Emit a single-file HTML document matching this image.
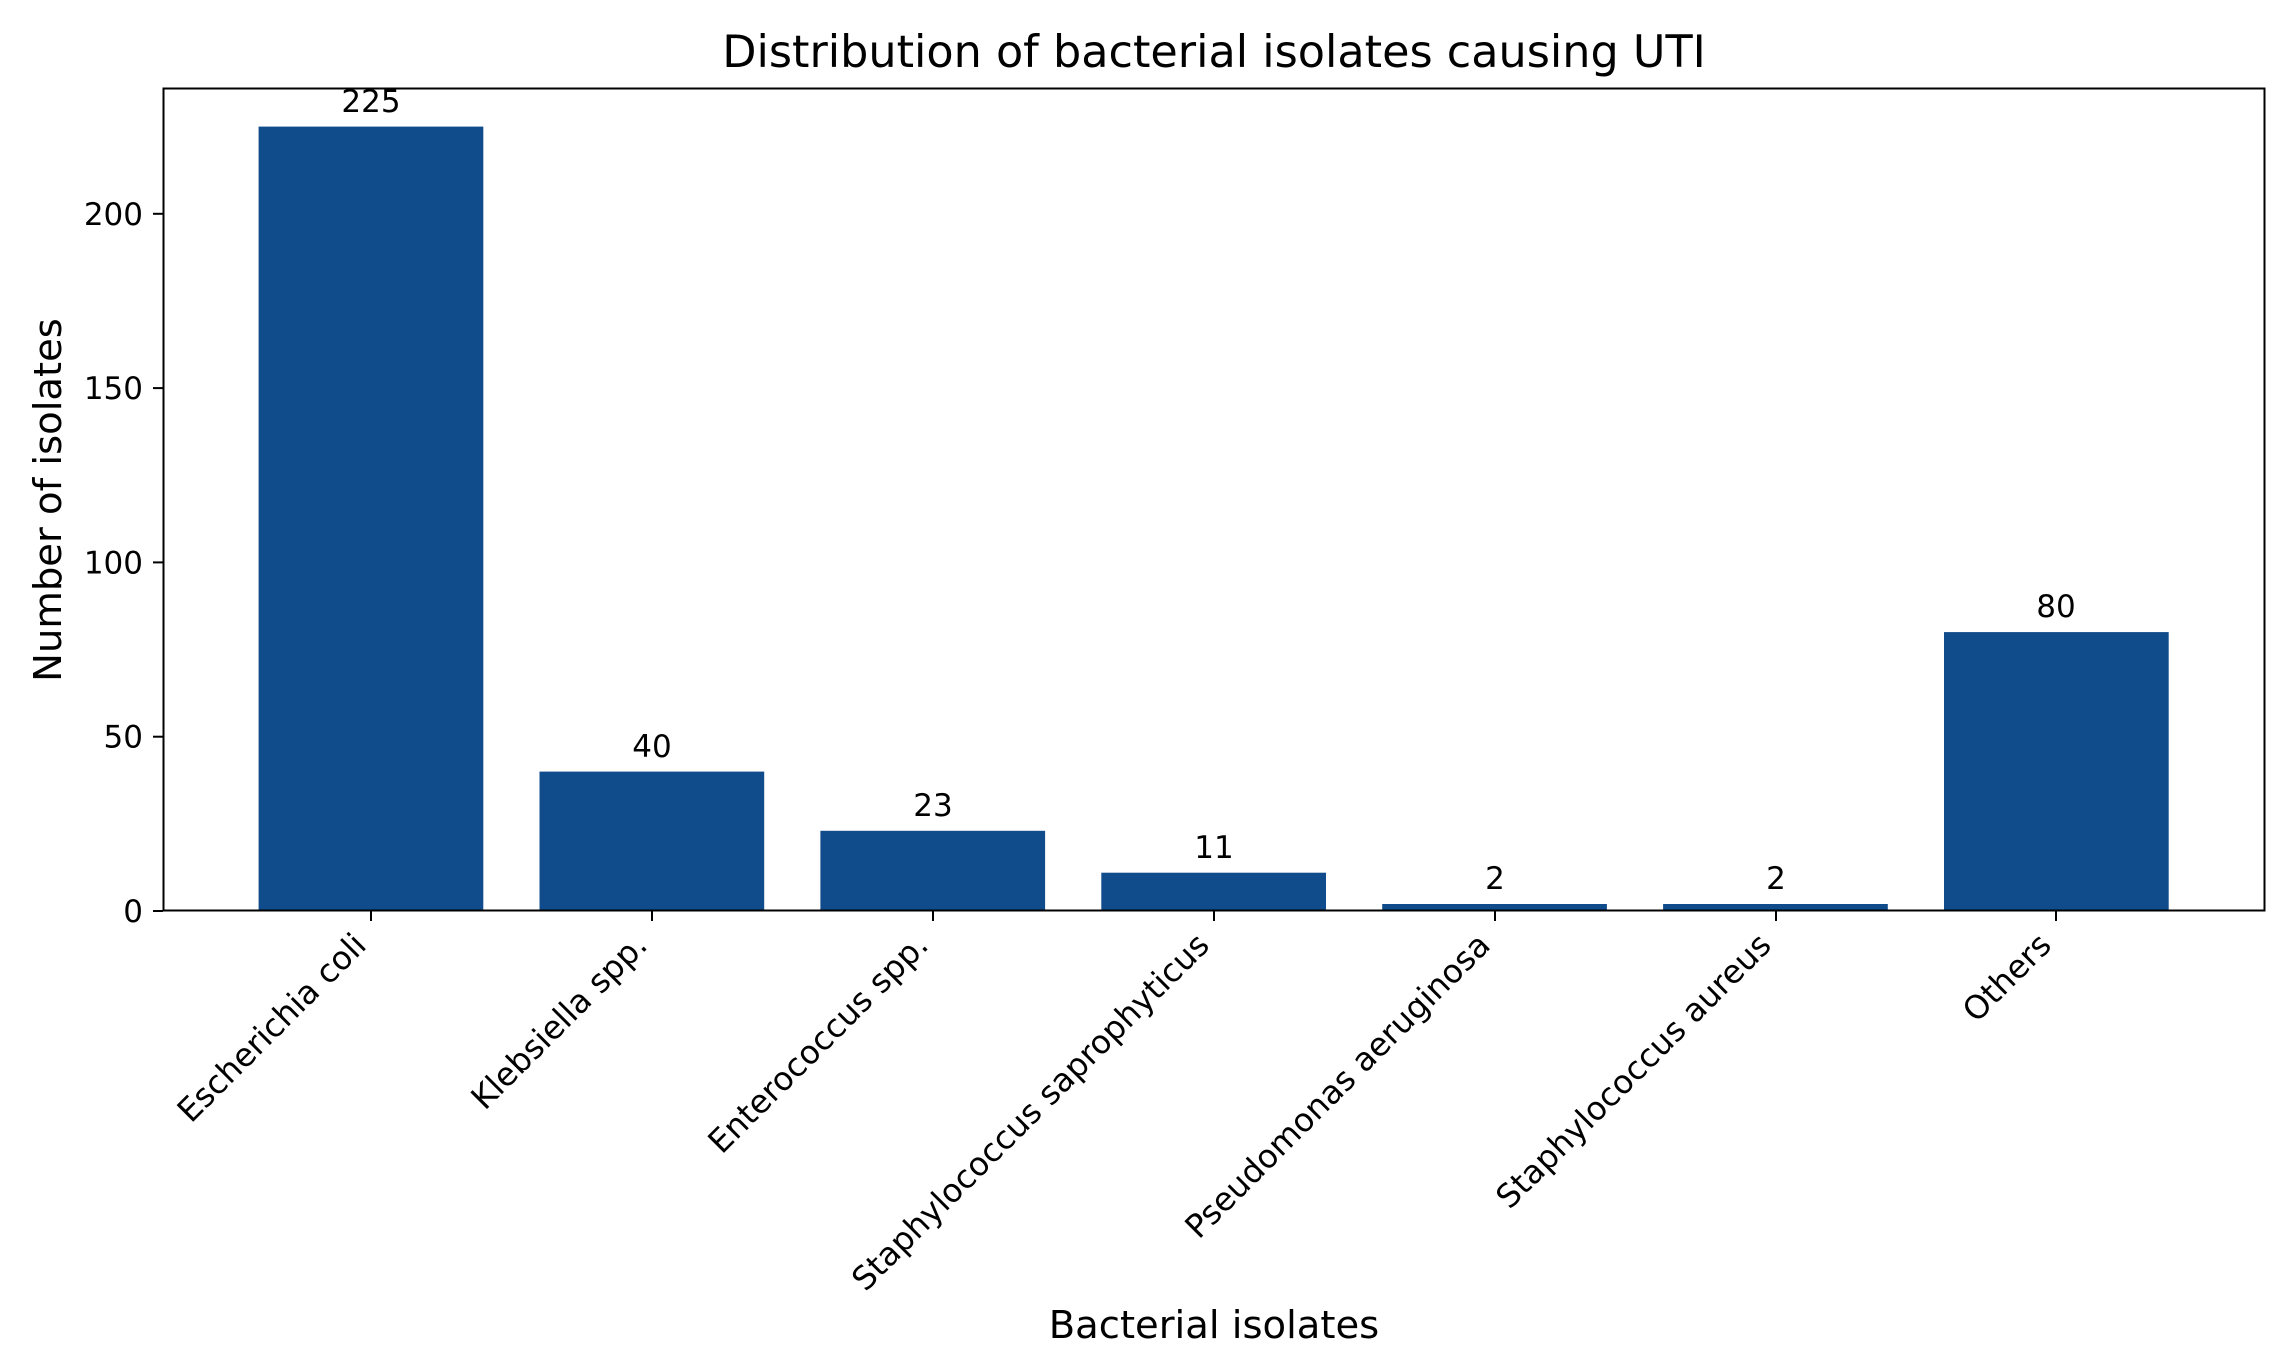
<!DOCTYPE html>
<html><head><meta charset="utf-8"><style>
html,body{margin:0;padding:0;background:#fff;}
svg{display:block;}
text{font-family:"DejaVu Sans","Liberation Sans",sans-serif;fill:#000;}
</style></head><body>
<svg width="2281" height="1358" viewBox="0 0 2281 1358" xmlns="http://www.w3.org/2000/svg">
<rect width="2281" height="1358" fill="#fff"/>
<text x="1214" y="67" font-size="44.5" text-anchor="middle">Distribution of bacterial isolates causing UTI</text>
<g fill="#104b8c">
<rect x="258.6" y="126.6" width="224.7" height="784.4"/>
<rect x="539.5" y="771.6" width="224.7" height="139.4"/>
<rect x="820.4" y="830.8" width="224.7" height="80.2"/>
<rect x="1101.3" y="872.7" width="224.7" height="38.3"/>
<rect x="1382.2" y="904.0" width="224.7" height="7.0"/>
<rect x="1663.1" y="904.0" width="224.7" height="7.0"/>
<rect x="1944.0" y="632.1" width="224.7" height="278.9"/>
</g>
<g font-size="31" text-anchor="middle">
<text x="371" y="112">225</text>
<text x="652" y="757">40</text>
<text x="933" y="816">23</text>
<text x="1214" y="858">11</text>
<text x="1495" y="889">2</text>
<text x="1776" y="889">2</text>
<text x="2056" y="617">80</text>
</g>
<rect x="163.5" y="88.5" width="2101" height="822" fill="none" stroke="#000" stroke-width="2"/>
<g stroke="#000" stroke-width="2">
<line x1="153" y1="911" x2="163" y2="911"/>
<line x1="153" y1="736.7" x2="163" y2="736.7"/>
<line x1="153" y1="562.4" x2="163" y2="562.4"/>
<line x1="153" y1="388.1" x2="163" y2="388.1"/>
<line x1="153" y1="213.8" x2="163" y2="213.8"/>
<line x1="371" y1="911" x2="371" y2="921"/>
<line x1="652" y1="911" x2="652" y2="921"/>
<line x1="933" y1="911" x2="933" y2="921"/>
<line x1="1214" y1="911" x2="1214" y2="921"/>
<line x1="1495" y1="911" x2="1495" y2="921"/>
<line x1="1776" y1="911" x2="1776" y2="921"/>
<line x1="2056" y1="911" x2="2056" y2="921"/>
</g>
<g font-size="31" text-anchor="end">
<text x="143" y="922">0</text>
<text x="143" y="747.7">50</text>
<text x="143" y="573.4">100</text>
<text x="143" y="399.1">150</text>
<text x="143" y="224.8">200</text>
</g>
<g font-size="32.3" text-anchor="end">
<text transform="translate(351,930) rotate(-45)" dy="24">Escherichia coli</text>
<text transform="translate(632,930) rotate(-45)" dy="24">Klebsiella spp.</text>
<text transform="translate(913,930) rotate(-45)" dy="24">Enterococcus spp.</text>
<text transform="translate(1194,930) rotate(-45)" dy="24">Staphylococcus saprophyticus</text>
<text transform="translate(1475,930) rotate(-45)" dy="24">Pseudomonas aeruginosa</text>
<text transform="translate(1756,930) rotate(-45)" dy="24">Staphylococcus aureus</text>
<text transform="translate(2036,930) rotate(-45)" dy="24">Others</text>
</g>
<text x="1214" y="1338" font-size="38.5" text-anchor="middle">Bacterial isolates</text>
<text transform="translate(61,500) rotate(-90)" font-size="38.5" text-anchor="middle">Number of isolates</text>
</svg>
</body></html>
